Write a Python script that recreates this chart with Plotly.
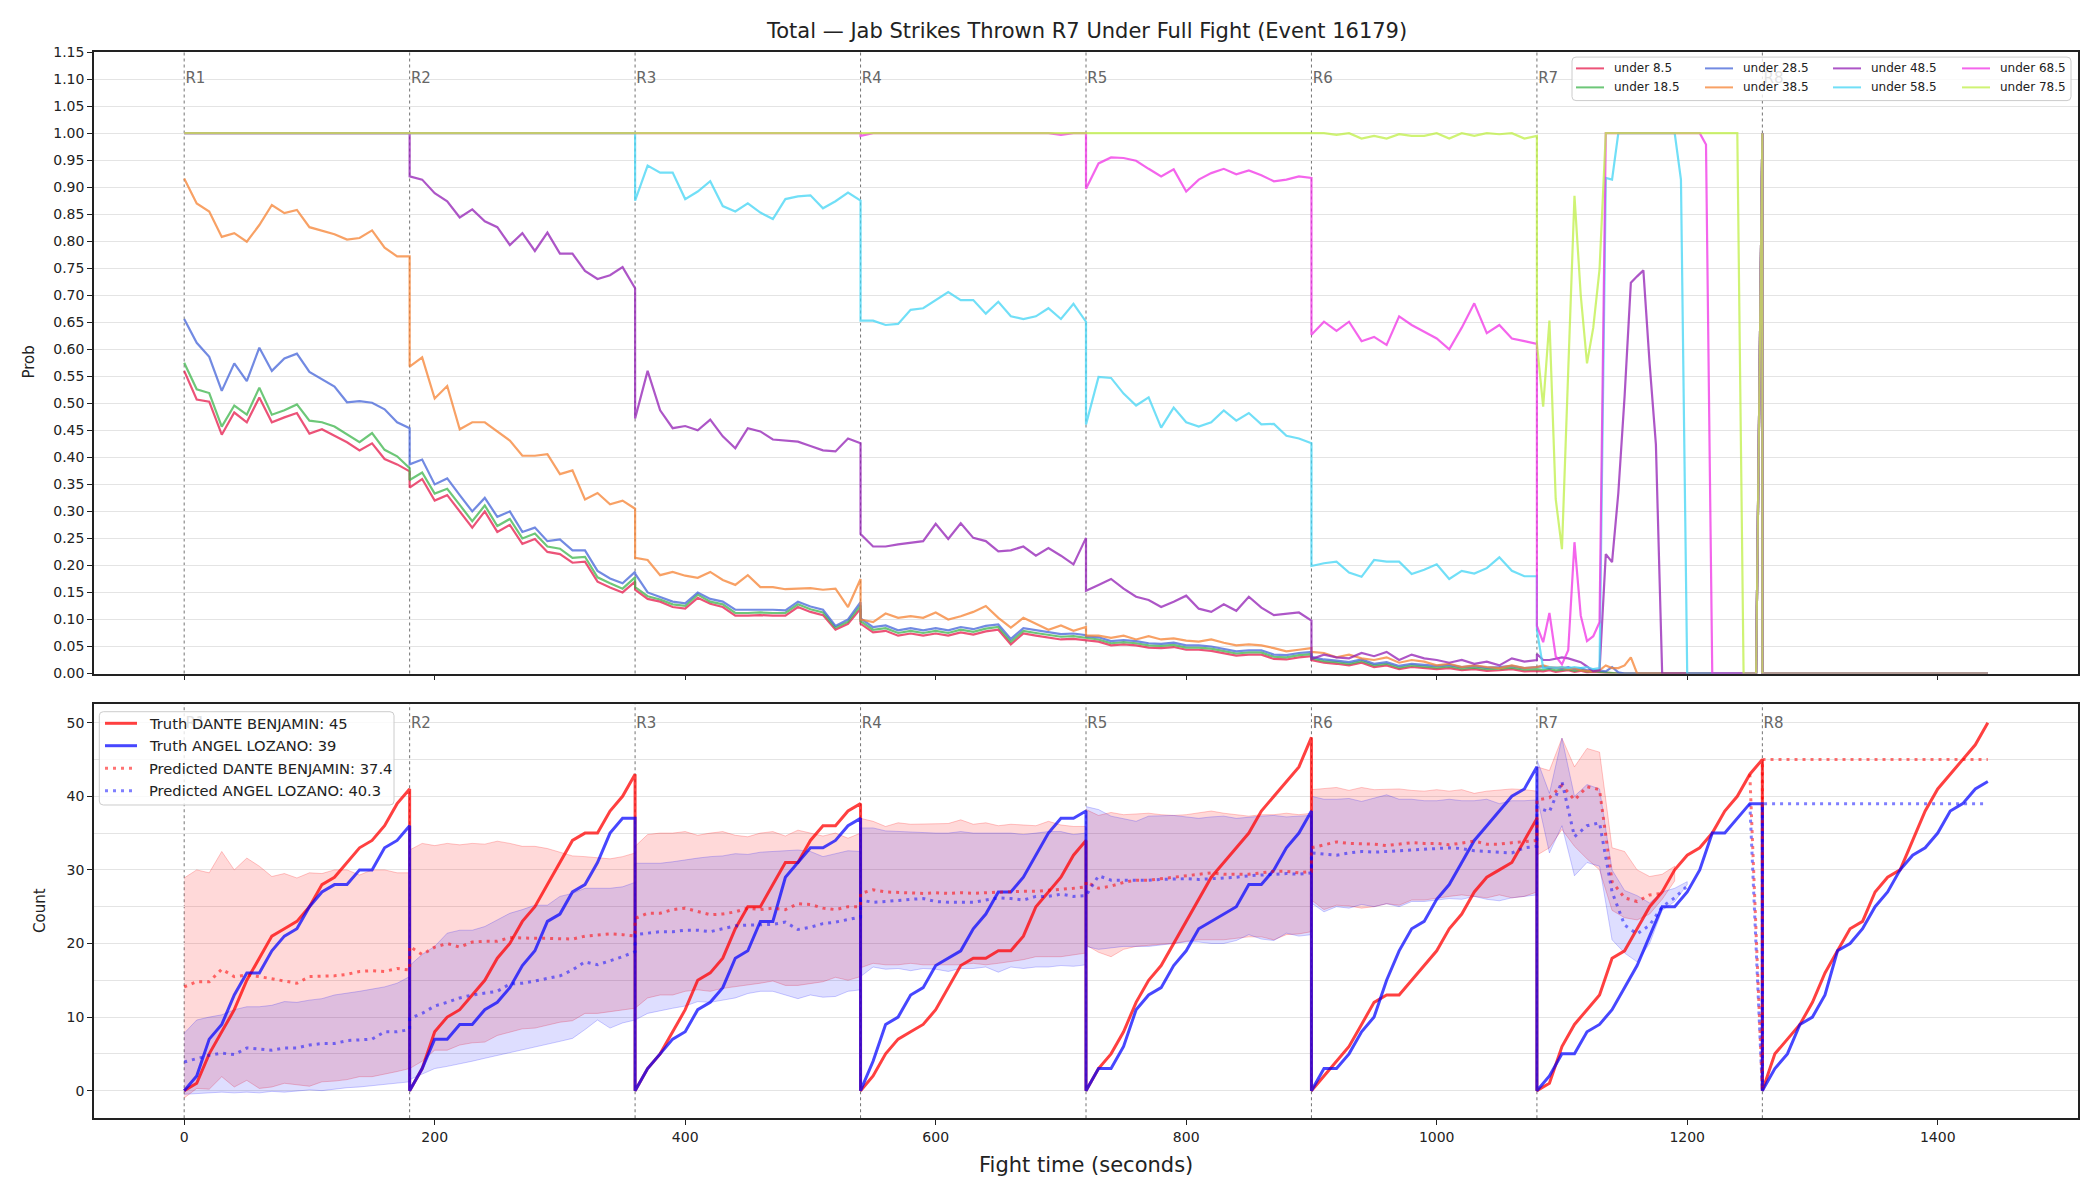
import plotly.graph_objects as go

# ---------------------------------------------------------------- text
TITLE = "Total \u2014 Jab Strikes Thrown R7 Under Full Fight (Event 16179)"
X_TITLE = "Fight time (seconds)"
TOP_Y_TITLE = "Prob"
BOT_Y_TITLE = "Count"

# ---------------------------------------------------------------- time grid
ROUND_NAMES = ["R1", "R2", "R3", "R4", "R5", "R6", "R7", "R8"]
ROUND_STARTS = [0, 180, 360, 540, 720, 900, 1080, 1260]
OFFSETS_10 = [0, 10, 20, 30, 40, 50, 60, 70, 80, 90, 100, 110, 120, 130, 140, 150, 160, 170, 180]
OFFSETS_5 = [0, 5, 10, 15, 20, 25, 30, 35, 40, 45, 50, 55, 60, 65, 70, 75, 80, 85, 90,
             95, 100, 105, 110, 115, 120, 125, 130, 135, 140, 145, 150, 155, 160, 165, 170, 175, 180]
TOP_ROUND_OFFSETS = [OFFSETS_10, OFFSETS_10, OFFSETS_10, OFFSETS_10,
                     OFFSETS_10, OFFSETS_10, OFFSETS_5, OFFSETS_10]

X_TICKS = [0, 200, 400, 600, 800, 1000, 1200, 1400]
TOP_Y_TICKS = [0.00, 0.05, 0.10, 0.15, 0.20, 0.25, 0.30, 0.35, 0.40, 0.45, 0.50, 0.55,
               0.60, 0.65, 0.70, 0.75, 0.80, 0.85, 0.90, 0.95, 1.00, 1.05, 1.10, 1.15]
BOT_Y_TICKS = [0, 10, 20, 30, 40, 50]
BOT_Y_MINOR = [5, 15, 25, 35, 45]

# ---------------------------------------------------------------- top panel: P(under line)
LINE_NAMES = ["under 8.5", "under 18.5", "under 28.5", "under 38.5",
              "under 48.5", "under 58.5", "under 68.5", "under 78.5"]
LINE_COLORS = ["#e6194b", "#3cb44b", "#4363d8", "#f58231",
               "#911eb4", "#42d4f4", "#f032e6", "#bfef45"]

ONES = [1.0] * 19
ZEROS = [0.0] * 19

UNDER_8_5 = [
    [.560, .507, .503, .442, .483, .465, .511, .465, .474, .482, .444, .452, .440, .428, .413, .426, .397, .387, .374],
    [.344, .360, .320, .330, .300, .270, .300, .262, .275, .240, .249, .225, .221, .205, .207, .170, .159, .150, .170],
    [.155, .138, .133, .123, .120, .140, .129, .123, .107, .107, .108, .107, .107, .123, .114, .108, .081, .092, .120],
    [.092, .076, .079, .070, .074, .070, .074, .070, .076, .072, .078, .081, .054, .074, .070, .066, .063, .064, .061],
    [.061, .059, .052, .054, .052, .048, .047, .049, .044, .044, .042, .037, .033, .035, .035, .027, .026, .030, .032],
    [.025, .020, .018, .015, .020, .012, .015, .008, .012, .010, .008, .010, .006, .008, .005, .006, .008, .004, .005],
    [.005, .004, .006, .003, .004, .006, .003, .005, .002, .003, .002, .001] + [0.0] * 24 + [1.0],
    ZEROS,
]
UNDER_18_5 = [
    [.575, .526, .519, .457, .496, .479, .529, .479, .487, .498, .468, .465, .457, .442, .428, .445, .414, .402, .380],
    [.358, .372, .333, .342, .312, .282, .311, .273, .286, .250, .259, .235, .231, .214, .216, .178, .167, .157, .178],
    [.160, .143, .137, .128, .125, .146, .133, .128, .112, .112, .113, .112, .112, .128, .119, .113, .085, .096, .126],
    [.097, .081, .084, .075, .079, .075, .079, .075, .081, .077, .083, .086, .059, .079, .075, .071, .068, .069, .066],
    [.065, .063, .056, .058, .056, .052, .051, .053, .048, .048, .046, .041, .037, .039, .039, .031, .030, .034, .036],
    [.028, .023, .021, .018, .023, .015, .018, .011, .015, .013, .011, .013, .009, .011, .008, .009, .011, .007, .008],
    [.008, .007, .009, .006, .007, .008, .005, .007, .004, .005, .003, .002] + [0.0] * 24 + [1.0],
    ZEROS,
]
UNDER_28_5 = [
    [.656, .612, .586, .523, .574, .541, .603, .560, .583, .592, .558, .544, .531, .502, .504, .501, .489, .465, .454],
    [.387, .396, .350, .361, .330, .300, .325, .290, .300, .262, .270, .245, .248, .228, .228, .190, .176, .167, .188],
    [.185, .150, .142, .133, .130, .150, .138, .133, .118, .118, .119, .118, .117, .133, .124, .118, .088, .100, .132],
    [.102, .086, .089, .080, .084, .080, .084, .080, .086, .082, .088, .091, .064, .084, .080, .076, .073, .074, .071],
    [.069, .067, .060, .062, .060, .056, .055, .057, .052, .052, .050, .045, .041, .043, .043, .035, .034, .038, .040],
    [.031, .026, .024, .021, .026, .018, .021, .014, .018, .016, .014, .016, .012, .014, .011, .012, .014, .010, .011],
    [.012, .013, .010, .011, .009, .012, .008, .010, .006, .007, .005, .004, .012, .002] + [0.0] * 22 + [1.0],
    ZEROS,
]
UNDER_38_5 = [
    [.916, .870, .855, .808, .815, .799, .830, .867, .852, .858, .826, .820, .813, .803, .806, .820, .788, .772, .772],
    [.568, .585, .509, .532, .452, .465, .465, .448, .431, .403, .403, .406, .369, .376, .322, .334, .313, .320, .305],
    [.214, .210, .182, .188, .181, .177, .188, .173, .164, .182, .160, .160, .156, .157, .158, .155, .157, .123, .175],
    [.100, .095, .111, .103, .106, .103, .113, .100, .106, .114, .125, .103, .085, .103, .092, .081, .089, .079, .086],
    [.070, .070, .066, .070, .063, .069, .063, .065, .061, .059, .063, .057, .052, .054, .052, .047, .041, .044, .047],
    [.040, .038, .030, .035, .028, .025, .030, .020, .025, .022, .015, .018, .012, .015, .012, .010, .015, .010, .012],
    [.012, .015, .012, .010, .012, .008, .010, .006, .005, .004, .006, .015, .010, .010, .015, .030] + [0.0] * 20 + [1.0],
    ZEROS,
]
UNDER_48_5 = [
    ONES,
    [.920, .914, .889, .874, .844, .859, .837, .826, .793, .815, .782, .816, .777, .777, .745, .730, .737, .752, .713],
    [.472, .560, .487, .454, .458, .450, .470, .439, .417, .454, .448, .433, .431, .429, .421, .413, .411, .435, .426],
    [.258, .235, .235, .239, .242, .245, .277, .249, .278, .251, .245, .226, .228, .235, .218, .232, .218, .202, .251],
    [.153, .164, .175, .157, .142, .136, .123, .133, .144, .120, .114, .128, .116, .142, .122, .108, .111, .113, .098],
    [.027, .035, .030, .028, .038, .032, .040, .025, .035, .028, .025, .020, .025, .018, .022, .015, .028, .022, .025],
    [.036, .025, .025, .028, .030, .028, .025, .021, .013, .004, .006, .221, .206, .334, .513, .723, .735, .746, .573,
     .424] + [0.0] * 16 + [1.0],
    ZEROS,
]
UNDER_58_5 = [
    ONES,
    ONES,
    [.875, .940, .927, .927, .878, .892, .911, .865, .855, .870, .853, .841, .878, .883, .885, .861, .874, .890, .875],
    [.653, .653, .645, .647, .673, .676, .691, .706, .691, .691, .666, .688, .661, .656, .661, .676, .656, .684, .651],
    [.461, .549, .547, .518, .496, .511, .455, .492, .465, .457, .465, .487, .468, .482, .461, .462, .440, .435, .426],
    [.199, .204, .207, .187, .179, .210, .207, .207, .184, .192, .202, .175, .190, .185, .195, .215, .190, .180, .180],
    [.080, .010, .012, .010, .012, .010, .012, .010, .012, .008, .010, .917, .914] + [1.0] * 10 + [.914]
    + [0.0] * 12 + [1.0],
    ZEROS,
]
UNDER_68_5 = [
    ONES,
    ONES,
    ONES,
    [.995, 1.0, 1.0, 1.0, 1.0, 1.0, 1.0, 1.0, 1.0, 1.0, 1.0, 1.0, 1.0, 1.0, 1.0, 1.0, .997, 1.0, 1.0],
    [.897, .944, .955, .954, .949, .934, .920, .933, .892, .914, .926, .934, .924, .931, .922, .911, .914, .920, .917],
    [.627, .651, .634, .651, .615, .623, .608, .661, .645, .632, .620, .600, .640, .685, .630, .645, .620, .615, .610],
    [.088, .058, .112, .032, .017, .043, .243, .107, .060, .069, .095] + [1.0] * 16 + [.979] + [0.0] * 8 + [1.0],
    ZEROS,
]
UNDER_78_5 = [
    ONES,
    ONES,
    ONES,
    ONES,
    ONES,
    [1.0, 1.0, .997, 1.0, .990, .995, .990, .998, .995, .995, 1.0, .990, 1.0, .995, 1.0, .998, 1.0, .990, .995],
    [.610, .494, .653, .323, .230, .560, .884, .700, .574, .640, .748] + [1.0] * 22 + [0.0] * 3 + [1.0],
    ZEROS,
]
TOP_SERIES = [UNDER_8_5, UNDER_18_5, UNDER_28_5, UNDER_38_5,
              UNDER_48_5, UNDER_58_5, UNDER_68_5, UNDER_78_5]

# ---------------------------------------------------------------- bottom panel: counts (10 s grid)
FIGHTER_A = "DANTE BENJAMIN"
FIGHTER_B = "ANGEL LOZANO"
TRUTH_A_FINAL = 45
TRUTH_B_FINAL = 39
PRED_A_FINAL = 37.4
PRED_B_FINAL = 40.3
NONE19 = [None] * 19

TRUTH_A = [
    [0, 1, 5, 8, 11, 15, 18, 21, 22, 23, 25, 28, 29, 31, 33, 34, 36, 39, 41],
    [0, 3, 8, 10, 11, 13, 15, 18, 20, 23, 25, 28, 31, 34, 35, 35, 38, 40, 43],
    [0, 3, 5, 8, 11, 15, 16, 18, 22, 25, 25, 28, 31, 31, 34, 36, 36, 38, 39],
    [0, 2, 5, 7, 8, 9, 11, 14, 17, 18, 18, 19, 19, 21, 25, 27, 29, 32, 34],
    [0, 3, 5, 8, 12, 15, 17, 20, 23, 26, 29, 31, 33, 35, 38, 40, 42, 44, 48],
    [0, 2, 4, 6, 9, 12, 13, 13, 15, 17, 19, 22, 24, 27, 29, 30, 31, 34, 37],
    [0, 1, 6, 9, 11, 13, 18, 19, 22, 25, 27, 30, 32, 33, 35, 38, 40, 43, 45],
    [0, 5, 7, 9, 12, 16, 19, 22, 23, 27, 29, 30, 34, 38, 41, 43, 45, 47, 50],
]
TRUTH_B = [
    [0, 2, 7, 9, 13, 16, 16, 19, 21, 22, 25, 27, 28, 28, 30, 30, 33, 34, 36],
    [0, 3, 7, 7, 9, 9, 11, 12, 14, 17, 19, 23, 24, 27, 28, 31, 35, 37, 37],
    [0, 3, 5, 7, 8, 11, 12, 14, 18, 19, 23, 23, 29, 31, 33, 33, 34, 36, 37],
    [0, 4, 9, 10, 13, 14, 17, 18, 19, 22, 24, 27, 27, 29, 32, 35, 37, 37, 38],
    [0, 3, 3, 6, 11, 13, 14, 17, 19, 22, 23, 24, 25, 28, 28, 30, 33, 35, 38],
    [0, 3, 3, 5, 8, 10, 15, 19, 22, 23, 26, 28, 31, 34, 36, 38, 40, 41, 44],
    [0, 2, 5, 5, 8, 9, 11, 14, 17, 21, 25, 25, 27, 30, 35, 35, 37, 39, 39],
    [0, 3, 5, 9, 10, 13, 19, 20, 22, 25, 27, 30, 32, 33, 35, 38, 39, 41, 42],
]
PRED_A = [
    [14.1, 14.8, 14.8, 16.5, 15.5, 15.7, 15.5, 15.2, 15.0, 14.6, 15.5, 15.5, 15.6, 15.8, 16.2, 16.3, 16.2, 16.6, 16.4],
    [19.6, 18.5, 19.5, 20.0, 19.5, 20.2, 20.3, 20.3, 20.8, 20.7, 20.7, 20.7, 20.6, 20.6, 21.0, 21.2, 21.3, 21.2, 21.0],
    [23.4, 24.1, 24.1, 24.6, 24.8, 24.4, 23.9, 24.0, 24.3, 24.8, 24.6, 24.8, 24.6, 25.4, 25.3, 24.8, 24.6, 25.0, 25.0],
    [26.8, 27.3, 27.0, 26.9, 26.9, 26.8, 26.9, 26.8, 26.9, 26.8, 26.9, 27.0, 27.1, 27.1, 27.1, 27.2, 27.4, 27.5, 27.7],
    [28.4, 27.5, 27.8, 28.3, 28.6, 28.6, 28.8, 28.9, 29.1, 29.3, 29.6, 29.4, 29.4, 29.4, 29.6, 29.8, 29.8, 29.6, 29.8],
    [33.0, 33.4, 33.8, 33.6, 33.6, 33.5, 33.3, 33.5, 33.7, 33.6, 33.6, 33.4, 33.7, 33.9, 33.5, 33.5, 33.7, 33.8, 34.0],
    [39.5, 39.8, 41.5, 39.5, 41.3, 40.9, 28.4, 26.2, 25.7, 26.6, 26.8, None, None, None, None, None, None, 43.0, 0.0],
    [45.0] * 19,
]
PRED_B = [
    [3.9, 4.4, 4.8, 5.1, 4.9, 5.8, 5.6, 5.5, 5.8, 5.8, 6.2, 6.4, 6.4, 6.8, 6.9, 7.0, 8.0, 8.0, 8.3],
    [9.8, 10.5, 11.5, 12.0, 12.6, 13.0, 13.2, 13.5, 14.5, 14.6, 14.9, 15.3, 15.6, 16.4, 17.5, 17.1, 17.6, 18.2, 18.9],
    [21.2, 21.4, 21.6, 21.6, 21.8, 21.8, 21.6, 22.0, 22.4, 22.5, 22.6, 22.6, 22.9, 21.9, 22.2, 22.7, 22.9, 23.2, 23.6],
    [25.9, 25.6, 25.7, 25.9, 26.0, 26.1, 25.7, 25.6, 25.6, 25.6, 25.9, 26.2, 26.1, 25.9, 26.4, 26.4, 26.7, 26.4, 26.5],
    [26.5, 29.2, 28.6, 28.6, 28.5, 28.6, 28.7, 28.8, 28.8, 28.7, 28.8, 28.9, 29.0, 29.2, 29.3, 29.4, 29.5, 29.4, 29.6],
    [32.3, 32.2, 32.0, 32.3, 32.5, 32.4, 32.5, 32.6, 32.7, 32.8, 32.9, 33.0, 32.9, 32.6, 32.5, 32.4, 32.3, 33.0, 33.2],
    [38.5, 37.9, 42.0, 34.5, 36.0, 36.4, 27.0, 22.5, 21.3, 22.5, 25.0, 26.2, 27.8, None, None, None, None, 39.0, 0.0],
    [39.0] * 19,
]
BAND_A_HI = [
    [28.9, 30.0, 29.6, 32.5, 30.0, 31.6, 30.5, 29.1, 29.5, 28.9, 29.6, 29.5, 30.0, 30.0, 29.3, 30.0, 30.0, 29.6, 29.6],
    [32.7, 33.6, 33.3, 33.6, 33.4, 33.6, 33.5, 33.9, 33.6, 33.2, 33.2, 32.9, 32.4, 31.9, 31.8, 31.6, 31.5, 31.8, 32.3],
    [33.2, 34.8, 35.0, 35.0, 35.2, 34.7, 35.0, 35.2, 34.7, 34.5, 35.0, 35.2, 34.6, 35.4, 35.0, 34.6, 35.0, 34.3, 35.0],
    [37.0, 36.6, 35.9, 36.4, 36.2, 36.2, 36.3, 36.3, 36.8, 36.2, 36.4, 36.0, 36.2, 36.1, 36.0, 36.6, 36.1, 35.9, 35.9],
    [38.2, 37.4, 37.8, 37.5, 37.6, 37.7, 37.5, 37.4, 37.5, 37.8, 38.0, 37.7, 37.5, 37.3, 37.5, 37.5, 37.7, 37.5, 37.7],
    [40.9, 41.1, 41.2, 40.8, 41.2, 40.9, 40.9, 41.0, 40.8, 40.7, 40.9, 40.7, 40.9, 40.4, 40.7, 40.9, 41.0, 40.9, 40.7],
    [44.0, 43.5, 47.9, 44.0, 46.5, 46.0, 33.0, 32.5, 30.0, 29.1, 29.4, 30.5, None, None, None, None, None, None, None],
    NONE19,
]
BAND_A_LO = [
    [-1.0, 0.3, 0.2, 1.9, 0.5, 1.4, 0.3, 0.5, 1.0, 0.8, 0.6, 1.2, 1.3, 1.5, 1.9, 1.9, 2.3, 2.6, 3.0],
    [3.0, 4.0, 5.5, 5.5, 6.2, 6.5, 6.6, 7.5, 8.0, 8.4, 8.5, 8.9, 9.3, 9.5, 10.5, 10.5, 10.8, 11.0, 11.2],
    [11.2, 12.6, 13.0, 13.0, 13.5, 13.7, 13.5, 13.9, 14.1, 14.4, 14.6, 14.9, 14.3, 14.3, 14.6, 14.8, 15.4, 15.0, 15.5],
    [16.7, 17.3, 17.1, 17.1, 17.3, 17.1, 17.1, 17.1, 17.1, 17.3, 17.1, 17.3, 17.5, 17.8, 18.2, 18.2, 18.2, 18.5, 18.7],
    [19.8, 18.8, 18.2, 19.2, 19.6, 19.8, 19.9, 20.0, 20.3, 20.5, 20.5, 20.5, 20.7, 20.9, 20.9, 20.5, 21.2, 21.3, 21.6],
    [25.9, 24.6, 25.2, 25.1, 24.8, 25.0, 25.4, 25.2, 25.9, 25.9, 26.1, 26.4, 26.6, 26.4, 26.2, 26.6, 26.2, 26.4, 27.0],
    [32.0, 33.0, 35.5, 33.2, 31.5, 30.0, 24.5, 23.5, 23.2, 24.0, 26.0, 28.5, None, None, None, None, None, None, None],
    NONE19,
]
BAND_B_HI = [
    [7.8, 9.6, 10.0, 10.3, 11.0, 11.4, 11.4, 11.6, 12.1, 12.0, 12.3, 12.5, 13.0, 13.2, 13.5, 13.8, 14.1, 14.6, 15.5],
    [17.0, 18.5, 19.6, 21.4, 21.8, 21.8, 22.3, 23.2, 24.1, 24.6, 25.2, 25.2, 26.4, 26.8, 27.5, 27.5, 27.5, 27.7, 28.3],
    [30.9, 30.9, 30.9, 31.1, 31.4, 31.6, 31.8, 31.9, 32.2, 32.1, 32.4, 32.5, 32.5, 32.7, 32.5, 31.8, 32.2, 32.6, 32.5],
    [35.7, 35.7, 35.3, 35.2, 35.2, 35.1, 35.0, 35.0, 35.2, 35.0, 35.0, 35.1, 35.0, 34.8, 35.0, 35.2, 35.2, 34.8, 35.0],
    [38.6, 38.2, 37.3, 37.0, 36.6, 37.3, 37.4, 37.4, 37.2, 37.0, 37.2, 37.3, 37.0, 37.2, 37.3, 37.4, 37.2, 37.3, 37.4],
    [40.0, 39.6, 39.6, 39.7, 39.3, 39.7, 40.2, 39.6, 39.6, 39.4, 39.4, 39.6, 39.4, 39.4, 39.6, 39.0, 39.4, 39.4, 39.5],
    [45.0, 40.4, 47.9, 40.0, 41.6, 41.0, 30.0, 27.2, 26.5, 25.5, 27.0, 27.5, 28.4, None, None, None, None, None, None],
    NONE19,
]
BAND_B_LO = [
    [-0.5, -0.4, -0.3, -0.2, -0.3, -0.2, -0.3, -0.1, -0.2, 0.0, 0.1, 0.0, 0.2, 0.4, 0.5, 0.7, 0.9, 1.0, 1.2],
    [1.5, 2.2, 3.0, 3.3, 3.6, 4.0, 4.4, 4.8, 5.2, 5.5, 5.9, 6.3, 6.7, 7.1, 8.3, 9.6, 8.5, 9.2, 9.6],
    [9.6, 10.5, 10.8, 11.2, 11.5, 12.1, 12.0, 12.3, 12.6, 13.2, 13.5, 13.5, 13.0, 12.5, 13.0, 12.7, 12.8, 13.5, 13.7],
    [15.5, 16.8, 16.5, 16.6, 16.3, 16.6, 16.5, 16.2, 16.6, 16.6, 16.8, 16.1, 16.8, 16.6, 16.8, 16.8, 17.0, 16.9, 17.1],
    [19.6, 19.2, 19.4, 19.6, 19.6, 19.6, 19.8, 20.0, 20.2, 20.2, 20.0, 20.0, 20.4, 21.2, 20.6, 20.4, 21.4, 21.0, 21.2],
    [25.5, 24.3, 25.0, 24.8, 25.3, 25.0, 25.4, 25.0, 25.7, 25.7, 25.9, 26.1, 26.0, 26.4, 26.0, 25.8, 26.2, 26.4, 26.6],
    [40.0, 32.3, 36.0, 29.2, 31.0, 30.5, 20.5, 18.7, 17.5, 20.0, 24.5, 25.7, 28.0, None, None, None, None, None, None],
    NONE19,
]

# ---------------------------------------------------------------- geometry (pixels of the 2100x1200 page)
W, H = 2100, 1200
# the photographed page comes out slightly squeezed vertically; place targets accordingly
V_SCALE, V_OFF = 0.9868, 7.9
FONT = "DejaVu Sans"
INK = "#222222"
GRID = "#e4e4e4"
PLOT_X0, PLOT_X1 = 94, 2078
TOP_Y0, TOP_Y1 = 52, 673.5
BOT_Y0, BOT_Y1 = 704, 1118.3
X_RANGE = [-72, 1512]
TOP_RANGE = [0, 1.15]
BOT_RANGE = [-3.75, 52.54]


def PX(x):
    return x / W


def PY(y):
    return 1 - ((y - V_OFF) / V_SCALE) / H


def rgba(hex_color, a):
    h = hex_color.lstrip("#")
    return "rgba(%d,%d,%d,%.3f)" % (int(h[0:2], 16), int(h[2:4], 16), int(h[4:6], 16), a)


def round_x(r, offsets):
    return [ROUND_STARTS[r] + o for o in offsets]


fig = go.Figure()

# ---- top panel lines
TOP_ALPHA = 0.75
for name, color, series in zip(LINE_NAMES, LINE_COLORS, TOP_SERIES):
    xs, ys = [], []
    for r in range(8):
        offs = TOP_ROUND_OFFSETS[r]
        assert len(series[r]) == len(offs), (name, r, len(series[r]))
        xs += round_x(r, offs)
        ys += series[r]
    fig.add_trace(go.Scatter(x=xs, y=ys, mode="lines", name=name,
                             line=dict(color=rgba(color, TOP_ALPHA), width=2.2),
                             xaxis="x", yaxis="y", showlegend=False, hoverinfo="skip"))

# ---- bottom panel bands
for hi, lo, col, a in [(BAND_A_HI, BAND_A_LO, "#ff0000", 0.15), (BAND_B_HI, BAND_B_LO, "#0000ff", 0.13)]:
    for r in range(8):
        xr = round_x(r, OFFSETS_10)
        assert len(hi[r]) == 19 and len(lo[r]) == 19
        pts = [(x, h, l) for x, h, l in zip(xr, hi[r], lo[r]) if h is not None and l is not None]
        if len(pts) < 2:
            continue
        bx = [p[0] for p in pts]
        bh = [p[1] for p in pts]
        bl = [p[2] for p in pts]
        fig.add_trace(go.Scatter(x=bx + bx[::-1], y=bh + bl[::-1], mode="lines", fill="toself",
                                 fillcolor=rgba(col, a), line=dict(color=rgba(col, a + 0.07), width=1),
                                 xaxis="x2", yaxis="y2", showlegend=False, hoverinfo="skip"))


def flatten(series):
    xs, ys = [], []
    for r in range(8):
        assert len(series[r]) == 19, r
        xs += round_x(r, OFFSETS_10)
        ys += series[r]
    return xs, ys


TRUTH_A_COL = "rgba(255,0,0,0.75)"
TRUTH_B_COL = "rgba(0,0,255,0.72)"
PRED_A_COL = "rgba(255,0,0,0.55)"
PRED_B_COL = "rgba(0,0,255,0.5)"
PRED_DASH = "3px,5px"

for series, colr in [(TRUTH_A, TRUTH_A_COL), (TRUTH_B, TRUTH_B_COL)]:
    xs, ys = flatten(series)
    fig.add_trace(go.Scatter(x=xs, y=ys, mode="lines", line=dict(color=colr, width=3),
                             xaxis="x2", yaxis="y2", showlegend=False, hoverinfo="skip"))
for series, colr in [(PRED_A, PRED_A_COL), (PRED_B, PRED_B_COL)]:
    xs, ys = flatten(series)
    fig.add_trace(go.Scatter(x=xs, y=ys, mode="lines", line=dict(color=colr, width=3, dash=PRED_DASH),
                             xaxis="x2", yaxis="y2", showlegend=False, hoverinfo="skip"))

# ---- round labels (as text traces so legend boxes can sit over them)
LABEL_COL = "#666666"
fig.add_trace(go.Scatter(x=[t + 1 for t in ROUND_STARTS], y=[1.10] * 8, text=ROUND_NAMES, mode="text",
                         textposition="middle right", textfont=dict(family=FONT, size=15, color=LABEL_COL),
                         xaxis="x", yaxis="y", showlegend=False, hoverinfo="skip"))
fig.add_trace(go.Scatter(x=[t + 1 for t in ROUND_STARTS], y=[49.8] * 8, text=ROUND_NAMES, mode="text",
                         textposition="middle right", textfont=dict(family=FONT, size=15, color=LABEL_COL),
                         xaxis="x2", yaxis="y2", showlegend=False, hoverinfo="skip"))

shapes = []
for t in ROUND_STARTS:
    for xr, yr in [("x", "y domain"), ("x2", "y2 domain")]:
        shapes.append(dict(type="line", xref=xr, yref=yr, x0=t, x1=t, y0=0, y1=1,
                           line=dict(color="rgba(90,90,90,0.85)", width=1, dash="dot"), layer="below"))


def rounded_box(x0, y0, x1, y1, r=4):
    rx, ry = r / W, r / H
    X0, X1, Y0, Y1 = PX(x0), PX(x1), PY(y0), PY(y1)
    path = (f"M {X0 + rx},{Y0} L {X1 - rx},{Y0} Q {X1},{Y0} {X1},{Y0 - ry} "
            f"L {X1},{Y1 + ry} Q {X1},{Y1} {X1 - rx},{Y1} "
            f"L {X0 + rx},{Y1} Q {X0},{Y1} {X0},{Y1 + ry} "
            f"L {X0},{Y0 - ry} Q {X0},{Y0} {X0 + rx},{Y0} Z")
    return dict(type="path", xref="paper", yref="paper", path=path,
                fillcolor="rgba(255,255,255,0.8)", line=dict(color="#cccccc", width=1), layer="above")


annotations = []

# ---- top legend (4 columns x 2 rows, column-major)
shapes.append(rounded_box(1572, 57, 2071, 100.5))
COL_LINE_X = [1576, 1705, 1833, 1962]
ROW_Y = [68.3, 87.3]
for i, (name, color) in enumerate(zip(LINE_NAMES, LINE_COLORS)):
    c, rrow = i // 2, i % 2
    y = PY(ROW_Y[rrow])
    shapes.append(dict(type="line", xref="paper", yref="paper", x0=PX(COL_LINE_X[c]), x1=PX(COL_LINE_X[c] + 28),
                       y0=y, y1=y, line=dict(color=rgba(color, TOP_ALPHA), width=2), layer="above"))
    annotations.append(dict(x=PX(COL_LINE_X[c] + 36), y=y, xref="paper", yref="paper", text=name,
                            showarrow=False, xanchor="left", yanchor="middle",
                            font=dict(family=FONT, size=12, color=INK)))

# ---- bottom legend
shapes.append(rounded_box(99.3, 711.7, 394, 805))
BOT_ITEMS = [
    ("Truth %s: %d" % (FIGHTER_A, TRUTH_A_FINAL), TRUTH_A_COL, "solid"),
    ("Truth %s: %d" % (FIGHTER_B, TRUTH_B_FINAL), TRUTH_B_COL, "solid"),
    ("Predicted %s: %.1f" % (FIGHTER_A, PRED_A_FINAL), PRED_A_COL, PRED_DASH),
    ("Predicted %s: %.1f" % (FIGHTER_B, PRED_B_FINAL), PRED_B_COL, PRED_DASH),
]
BOT_ROW_Y = [723.3, 745.7, 768.3, 790.7]
for (text, colr, dash), yy in zip(BOT_ITEMS, BOT_ROW_Y):
    y = PY(yy)
    shapes.append(dict(type="line", xref="paper", yref="paper", x0=PX(105), x1=PX(137), y0=y, y1=y,
                       line=dict(color=colr, width=3, dash=dash), layer="above"))
    annotations.append(dict(x=PX(147), y=y, xref="paper", yref="paper", text=text, showarrow=False,
                            xanchor="left", yanchor="middle", font=dict(family=FONT, size=14.7, color=INK)))

# ---- titles
plot_cx = PX((PLOT_X0 + PLOT_X1) / 2)
annotations.append(dict(x=plot_cx, y=PY(31), xref="paper", yref="paper", text=TITLE, showarrow=False,
                        xanchor="center", yanchor="middle", font=dict(family=FONT, size=21, color=INK)))
annotations.append(dict(x=plot_cx, y=PY(1165), xref="paper", yref="paper", text=X_TITLE, showarrow=False,
                        xanchor="center", yanchor="middle", font=dict(family=FONT, size=21, color=INK)))
annotations.append(dict(x=PX(29.5), y=PY(362), xref="paper", yref="paper", text=TOP_Y_TITLE, showarrow=False,
                        textangle=-90, xanchor="center", yanchor="middle",
                        font=dict(family=FONT, size=15, color=INK)))
annotations.append(dict(x=PX(40), y=PY(911), xref="paper", yref="paper", text=BOT_Y_TITLE, showarrow=False,
                        textangle=-90, xanchor="center", yanchor="middle",
                        font=dict(family=FONT, size=15, color=INK)))

axis_common = dict(showline=True, linecolor=INK, linewidth=1.6, mirror=True, ticks="outside",
                   ticklen=5, tickwidth=1.2, tickcolor=INK, zeroline=False,
                   tickfont=dict(family=FONT, size=14, color=INK))

fig.update_layout(
    width=W, height=H, margin=dict(l=0, r=0, t=0, b=0), autosize=False,
    paper_bgcolor="white", plot_bgcolor="white", showlegend=False,
    font=dict(family=FONT, color=INK),
    xaxis=dict(domain=[PX(PLOT_X0), PX(PLOT_X1)], range=X_RANGE, anchor="y", tickvals=X_TICKS,
               showticklabels=False, showgrid=False, **axis_common),
    yaxis=dict(domain=[PY(TOP_Y1), PY(TOP_Y0)], range=TOP_RANGE, anchor="x", tickvals=TOP_Y_TICKS,
               tickformat=".2f", showgrid=True, gridcolor=GRID, gridwidth=1, **axis_common),
    xaxis2=dict(domain=[PX(PLOT_X0), PX(PLOT_X1)], range=X_RANGE, anchor="y2", tickvals=X_TICKS,
                showgrid=False, **axis_common),
    yaxis2=dict(domain=[PY(BOT_Y1), PY(BOT_Y0)], range=BOT_RANGE, anchor="x2", tickvals=BOT_Y_TICKS,
                showgrid=True, gridcolor=GRID, gridwidth=1,
                minor=dict(tickvals=BOT_Y_MINOR, showgrid=True, gridcolor=GRID, gridwidth=1, ticks=""),
                **axis_common),
    shapes=shapes,
    annotations=annotations,
)

fig.write_html("out.html")
